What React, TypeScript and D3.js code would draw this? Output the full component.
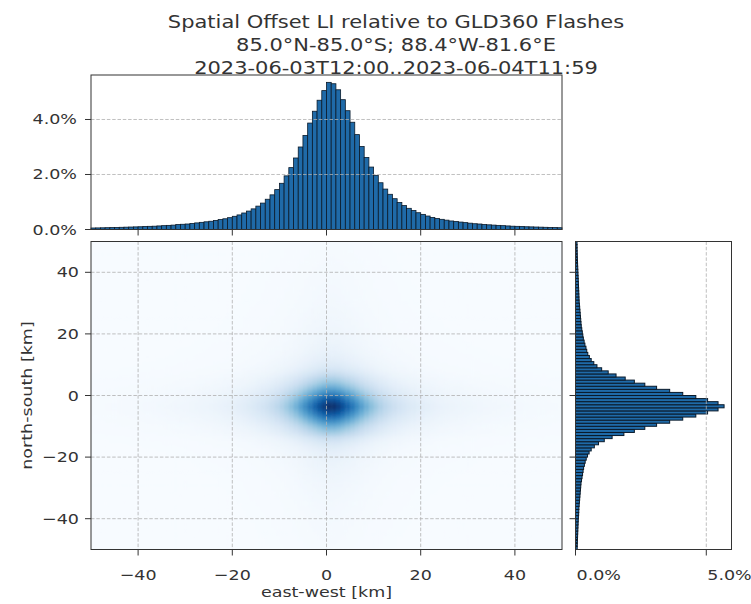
import * as React from 'react'
import * as d3 from 'd3'

// histogram of east-west offsets, percent per 1 km bin, bins -50..50
const ewPct = [
  0.055, 0.058, 0.062, 0.066, 0.07, 0.075, 0.08, 0.085, 0.09, 0.095,
  0.1, 0.11, 0.115, 0.12, 0.13, 0.14, 0.15, 0.16, 0.18, 0.19,
  0.2, 0.22, 0.24, 0.26, 0.28, 0.3, 0.33, 0.36, 0.39, 0.43,
  0.48, 0.53, 0.6, 0.67, 0.75, 0.85, 0.96, 1.1, 1.26, 1.45,
  1.68, 1.95, 2.25, 2.6, 3.0, 3.42, 3.87, 4.3, 4.7, 5.05,
  5.35, 5.3, 5.08, 4.72, 4.32, 3.9, 3.45, 3.02, 2.62, 2.27,
  1.97, 1.7, 1.47, 1.28, 1.12, 0.98, 0.87, 0.77, 0.69, 0.61,
  0.55, 0.49, 0.44, 0.4, 0.37, 0.34, 0.31, 0.29, 0.27, 0.25,
  0.23, 0.21, 0.2, 0.18, 0.17, 0.16, 0.15, 0.14, 0.13, 0.12,
  0.115, 0.11, 0.1, 0.095, 0.09, 0.085, 0.08, 0.075, 0.07, 0.065,
]

// histogram of north-south offsets, percent per 1 km bin, bins -50..50
const nsPct = [
  0.065, 0.068, 0.072, 0.076, 0.08, 0.085, 0.09, 0.095, 0.1, 0.105,
  0.11, 0.12, 0.125, 0.13, 0.14, 0.15, 0.16, 0.17, 0.18, 0.19,
  0.2, 0.21, 0.23, 0.25, 0.27, 0.29, 0.31, 0.34, 0.37, 0.41,
  0.46, 0.52, 0.6, 0.72, 0.88, 1.1, 1.4, 1.85, 2.25, 2.65,
  3.1, 3.6, 4.1, 4.6, 5.05, 5.45, 5.68, 5.45, 5.05, 4.6,
  4.1, 3.6, 3.1, 2.65, 2.25, 1.9, 1.55, 1.25, 1.0, 0.82,
  0.7, 0.6, 0.53, 0.47, 0.43, 0.4, 0.36, 0.33, 0.3, 0.28,
  0.26, 0.24, 0.22, 0.21, 0.2, 0.19, 0.18, 0.17, 0.16, 0.15,
  0.14, 0.135, 0.13, 0.125, 0.12, 0.115, 0.11, 0.105, 0.1, 0.095,
  0.09, 0.085, 0.08, 0.076, 0.072, 0.068, 0.065, 0.062, 0.06, 0.058,
]

const binStart = -50
const kmTicks = [-40, -20, 0, 20, 40]
const topPctTicks = [0, 2, 4]
const rightPctTicks = [0, 5]
const titleLines = [
  'Spatial Offset LI relative to GLD360 Flashes',
  '85.0°N-85.0°S; 88.4°W-81.6°E',
  '2023-06-03T12:00..2023-06-04T11:59',
]

const font = 'DejaVu Sans, sans-serif'
const gridStyle = { stroke: '#b0b0b0', strokeWidth: 0.8, strokeDasharray: '3.5,1.8' }
const fmtKm = (v: number) => (v < 0 ? '\u2212' + Math.abs(v) : String(v))
const fmtPct = (v: number) => v.toFixed(1) + '%'

// text with the slightly flattened glyphs seen in the picture
const Txt = ({ x, y, anchor = 'middle', size = 17.5, rotate = 0, children }: any) => (
  <text transform={`translate(${x},${y}) rotate(${rotate}) scale(1,0.85)`} textAnchor={anchor}
    fontFamily={font} fontSize={size} fill="#333">{children}</text>
)

const App = () => {
  const width = 751
  const height = 604

  const main = { left: 91, right: 562, top: 241.5, bottom: 549.5 }
  const top = { top: 75, bottom: 229.5 }
  const side = { left: 575.5, right: 731.5 }

  const x = d3.scaleLinear().domain([-50, 50]).range([main.left, main.right])
  const y = d3.scaleLinear().domain([-50, 50]).range([main.bottom, main.top])
  const topY = d3.scaleLinear().domain([0, d3.max(ewPct)! * 1.05]).range([top.bottom, top.top])
  const sideX = d3.scaleLinear().domain([0, d3.max(nsPct)! * 1.05]).range([side.left, side.right])

  // joint density from the two marginals
  const maxCell = d3.max(ewPct)! * d3.max(nsPct)!
  const color = d3.scaleSequential(d3.interpolateBlues).domain([0, maxCell])
  const cells: { i: number; j: number; v: number }[] = []
  ewPct.forEach((ev, i) => nsPct.forEach((nv, j) => cells.push({ i, j, v: ev * nv })))

  return (
    <svg width={width} height={height} style={{ position: 'absolute', left: 0, top: 0, background: '#fff' }}>
      <defs>
        <clipPath id="mainClip">
          <rect x={main.left} y={main.top} width={main.right - main.left} height={main.bottom - main.top} />
        </clipPath>
        <filter id="soft" x="-5%" y="-5%" width="110%" height="110%">
          <feGaussianBlur stdDeviation="1.3" />
        </filter>
      </defs>

      {/* title */}
      {titleLines.map((t, k) => (
        <Txt key={k} x={396} y={28 + k * 23} size={21}>{t}</Txt>
      ))}

      {/* top histogram */}
      <g>
        {ewPct.map((v, i) => (
          <rect key={i} x={x(binStart + i)} width={x(binStart + i + 1) - x(binStart + i)}
            y={topY(v)} height={topY(0) - topY(v)} fill="#1f6aa8" stroke="#0a1a2a" strokeWidth={0.8} />
        ))}
        {topPctTicks.map(t => (
          <line key={t} x1={main.left} x2={main.right} y1={topY(t)} y2={topY(t)} {...gridStyle} />
        ))}
        <rect x={main.left} y={top.top} width={main.right - main.left} height={top.bottom - top.top} fill="none" stroke="#333" strokeWidth={1} />
        {topPctTicks.map(t => (
          <g key={t}>
            <line x1={main.left - 6} x2={main.left} y1={topY(t)} y2={topY(t)} stroke="#333" />
            <Txt x={main.left - 14} y={topY(t) + 5} anchor="end">{fmtPct(t)}</Txt>
          </g>
        ))}
        {kmTicks.map(t => (
          <line key={t} x1={x(t)} x2={x(t)} y1={top.bottom} y2={top.bottom + 6} stroke="#333" />
        ))}
      </g>

      {/* 2d histogram */}
      <g clipPath="url(#mainClip)">
        <rect x={main.left} y={main.top} width={main.right - main.left} height={main.bottom - main.top} fill={color(0)} />
        <g filter="url(#soft)">
          {cells.map(c => (
            <rect key={c.i * 100 + c.j} x={x(binStart + c.i)} y={y(binStart + c.j + 1)}
              width={x(binStart + c.i + 1) - x(binStart + c.i) + 0.4}
              height={y(binStart + c.j) - y(binStart + c.j + 1) + 0.4}
              fill={color(c.v)} />
          ))}
        </g>
      </g>
      {kmTicks.map(t => (
        <g key={t}>
          <line x1={x(t)} x2={x(t)} y1={main.top} y2={main.bottom} {...gridStyle} />
          <line x1={main.left} x2={main.right} y1={y(t)} y2={y(t)} {...gridStyle} />
          <line x1={x(t)} x2={x(t)} y1={main.bottom} y2={main.bottom + 6} stroke="#333" />
          <Txt x={x(t)} y={main.bottom + 30}>{fmtKm(t)}</Txt>
          <line x1={main.left - 6} x2={main.left} y1={y(t)} y2={y(t)} stroke="#333" />
          <Txt x={main.left - 12} y={y(t) + 5} anchor="end">{fmtKm(t)}</Txt>
        </g>
      ))}
      <rect x={main.left} y={main.top} width={main.right - main.left} height={main.bottom - main.top} fill="none" stroke="#333" strokeWidth={1} />
      <Txt x={(main.left + main.right) / 2} y={597}>east-west [km]</Txt>
      <Txt x={32} y={(main.top + main.bottom) / 2} rotate={-90}>north-south [km]</Txt>

      {/* side histogram */}
      <g>
        {nsPct.map((v, j) => (
          <rect key={j} x={sideX(0)} width={sideX(v) - sideX(0)}
            y={y(binStart + j + 1)} height={y(binStart + j) - y(binStart + j + 1)}
            fill="#1f6aa8" stroke="#0a1a2a" strokeWidth={1} />
        ))}
        {rightPctTicks.map(t => (
          <line key={t} x1={sideX(t)} x2={sideX(t)} y1={main.top} y2={main.bottom} {...gridStyle} />
        ))}
        <rect x={side.left} y={main.top} width={side.right - side.left} height={main.bottom - main.top} fill="none" stroke="#333" strokeWidth={1} />
        {rightPctTicks.map(t => (
          <g key={t}>
            <line x1={sideX(t)} x2={sideX(t)} y1={main.bottom} y2={main.bottom + 6} stroke="#333" />
            <Txt x={sideX(t) + 1} y={main.bottom + 30} anchor="start">{fmtPct(t)}</Txt>
          </g>
        ))}
        {kmTicks.map(t => (
          <line key={t} x1={side.left - 6} x2={side.left} y1={y(t)} y2={y(t)} stroke="#333" />
        ))}
      </g>
    </svg>
  )
}

export default App
